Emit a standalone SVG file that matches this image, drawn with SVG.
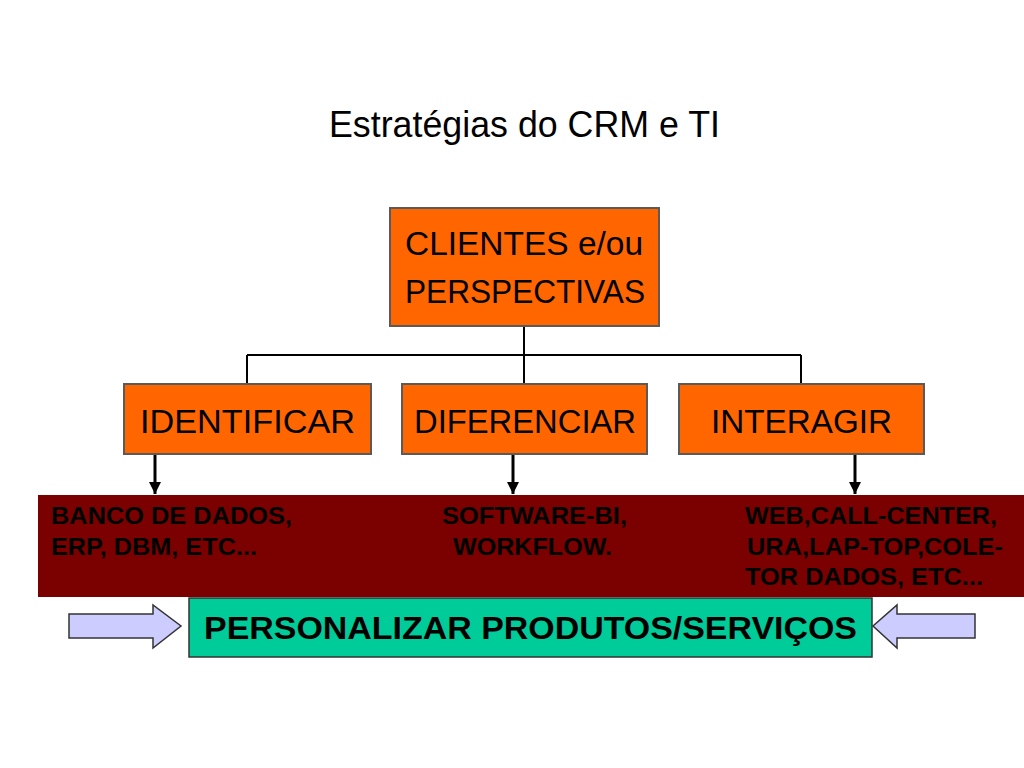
<svg xmlns="http://www.w3.org/2000/svg" width="1024" height="768" viewBox="0 0 1024 768">
  <defs>
    <style>
      .box { fill: #FF6600; stroke: #5A5A5A; stroke-width: 2; }
      .boxtxt { font-family: "Liberation Sans", Arial, sans-serif; font-size: 34px; fill: #000; }
      .band { font-family: "Liberation Sans", Arial, sans-serif; font-size: 23px; font-weight: bold; fill: #000; }
      .conn { stroke: #000; stroke-width: 2; fill: none; }
      .arr { stroke: #000; stroke-width: 3; fill: none; }
      .block { fill: #CCCCFF; stroke: #333; stroke-width: 1.5; }
    </style>
    <marker id="ah" viewBox="0 0 10 10" refX="10" refY="5" markerWidth="4" markerHeight="4" markerUnits="strokeWidth" orient="auto">
      <path d="M0,0 L10,5 L0,10 z" fill="#000"/>
    </marker>
  </defs>
  <rect width="1024" height="768" fill="#FFFFFF"/>

  <text id="title" x="329" y="137" font-family="'Liberation Sans', Arial, sans-serif" font-size="36" fill="#000" textLength="391" lengthAdjust="spacingAndGlyphs">Estratégias do CRM e TI</text>

  <g id="connectors">
    <path class="conn" d="M524,326 V355 M247,355 H801 M247,355 V384 M524,355 V384 M801,355 V384"/>
    <line class="arr" x1="155" y1="455" x2="155" y2="494" marker-end="url(#ah)"/>
    <line class="arr" x1="513" y1="455" x2="513" y2="494" marker-end="url(#ah)"/>
    <line class="arr" x1="855" y1="455" x2="855" y2="494" marker-end="url(#ah)"/>
  </g>

  <g id="clientes">
    <rect class="box" x="390" y="208" width="269" height="118"/>
    <text class="boxtxt" x="405" y="255" textLength="238" lengthAdjust="spacingAndGlyphs">CLIENTES e/ou</text>
    <text class="boxtxt" x="405" y="303" textLength="240" lengthAdjust="spacingAndGlyphs">PERSPECTIVAS</text>
  </g>

  <g id="identificar">
    <rect class="box" x="124" y="384" width="247" height="70"/>
    <text class="boxtxt" x="140" y="433" textLength="215" lengthAdjust="spacingAndGlyphs">IDENTIFICAR</text>
  </g>
  <g id="diferenciar">
    <rect class="box" x="402" y="384" width="245" height="70"/>
    <text class="boxtxt" x="414" y="433" textLength="222" lengthAdjust="spacingAndGlyphs">DIFERENCIAR</text>
  </g>
  <g id="interagir">
    <rect class="box" x="679" y="384" width="245" height="70"/>
    <text class="boxtxt" x="711" y="433" textLength="181" lengthAdjust="spacingAndGlyphs">INTERAGIR</text>
  </g>

  <g id="tecnologias">
    <rect x="38" y="495" width="986" height="102" fill="#7B0000"/>
    <text class="band" x="51" y="524" textLength="241" lengthAdjust="spacingAndGlyphs">BANCO DE DADOS,</text>
    <text class="band" x="51" y="555" textLength="206" lengthAdjust="spacingAndGlyphs">ERP, DBM, ETC...</text>
    <text class="band" x="442" y="524" textLength="185" lengthAdjust="spacingAndGlyphs">SOFTWARE-BI,</text>
    <text class="band" x="453" y="555" textLength="159" lengthAdjust="spacingAndGlyphs">WORKFLOW.</text>
    <text class="band" x="745" y="524" textLength="252" lengthAdjust="spacingAndGlyphs">WEB,CALL-CENTER,</text>
    <text class="band" x="747" y="555" textLength="256" lengthAdjust="spacingAndGlyphs">URA,LAP-TOP,COLE-</text>
    <text class="band" x="745" y="585" textLength="238" lengthAdjust="spacingAndGlyphs">TOR DADOS, ETC...</text>
  </g>

  <g id="personalizar">
    <rect x="189" y="598" width="683" height="59" fill="#00CC99" stroke="#333" stroke-width="1.5"/>
    <text x="204" y="639" font-family="'Liberation Sans', Arial, sans-serif" font-size="31" font-weight="bold" fill="#000" textLength="653" lengthAdjust="spacingAndGlyphs">PERSONALIZAR PRODUTOS/SERVIÇOS</text>
  </g>

  <g id="seta-esquerda">
    <path class="block" d="M69,614 H153 V605 L181,626 L153,648 V638 H69 Z"/>
  </g>
  <g id="seta-direita">
    <path class="block" d="M975,614 H897 V605 L873,626 L897,648 V638 H975 Z"/>
  </g>
</svg>
